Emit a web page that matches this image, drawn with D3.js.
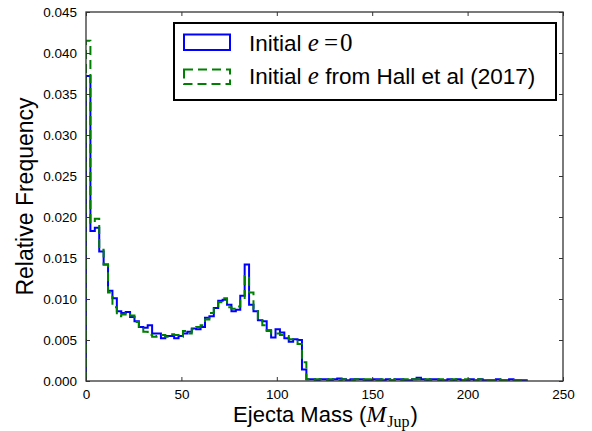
<!DOCTYPE html>
<html>
<head>
<meta charset="utf-8">
<script src="https://cdn.jsdelivr.net/npm/d3@7"></script>
<style>
  html, body { margin: 0; padding: 0; background: #fff; }
  svg { display: block; }
  text { font-family: "Liberation Sans", Arial, sans-serif; fill: #000; }
  .math { font-family: "Liberation Serif", "DejaVu Serif", serif; }
</style>
</head>
<body>
<svg id="chart" width="592" height="431"></svg>
<script>
// Histogram bins: 100 equal-width bins from 0 to 231 M_Jup
const binStart = 0;
const binWidth = 2.31;

// Relative frequency per bin, initial e = 0
const freqCircular = [
  0.0372, 0.0183, 0.0187, 0.0158, 0.0142, 0.0110, 0.0101, 0.0085, 0.0083, 0.0084,
  0.0078, 0.0073, 0.0066, 0.0065, 0.0068, 0.0058, 0.0058, 0.0052, 0.0055, 0.0055,
  0.0052, 0.0055, 0.0058, 0.0060, 0.0064, 0.0063, 0.0066, 0.0077, 0.0079, 0.0089,
  0.0098, 0.0099, 0.0093, 0.0085, 0.0087, 0.0104, 0.0142, 0.0093, 0.0085, 0.0074,
  0.0073, 0.0062, 0.0053, 0.0063, 0.0059, 0.0052, 0.0048, 0.0051, 0.0050, 0.0014,
  0.0002, 0.0002, 0.0001, 0.0002, 0.0002, 0.0001, 0.0002, 0.0003, 0.0002, 0.0001,
  0.0002, 0.0002, 0.0002, 0.0001, 0.0001, 0.0002, 0.0002, 0.0001, 0.0002, 0.0001,
  0.0002, 0.0002, 0.0001, 0.0001, 0.0002, 0.0004, 0.0002, 0.0001, 0.0002, 0.0002,
  0.0001, 0.0001, 0.0002, 0.0001, 0.0002, 0.0001, 0.0001, 0.0002, 0.0001, 0.0002,
  0.0001, 0.0001, 0.0001, 0.0002, 0.0001, 0.0001, 0.0002, 0.0001, 0.0001, 0.0001
];

// Relative frequency per bin, initial e from Hall et al (2017)
const freqHall = [
  0.0415, 0.0193, 0.0198, 0.0160, 0.0142, 0.0108, 0.0090, 0.0079, 0.0081, 0.0083,
  0.0080, 0.0072, 0.0064, 0.0060, 0.0056, 0.0054, 0.0055, 0.0056, 0.0054, 0.0057,
  0.0056, 0.0054, 0.0061, 0.0058, 0.0063, 0.0066, 0.0068, 0.0075, 0.0083, 0.0090,
  0.0096, 0.0101, 0.0090, 0.0088, 0.0091, 0.0100, 0.0128, 0.0108, 0.0088, 0.0076,
  0.0068, 0.0061, 0.0058, 0.0058, 0.0056, 0.0055, 0.0051, 0.0049, 0.0045, 0.0023,
  0.0002, 0.0001, 0.0002, 0.0002, 0.0001, 0.0002, 0.0002, 0.0001, 0.0002, 0.0002,
  0.0001, 0.0002, 0.0001, 0.0002, 0.0002, 0.0001, 0.0001, 0.0002, 0.0002, 0.0001,
  0.0002, 0.0001, 0.0002, 0.0001, 0.0002, 0.0002, 0.0001, 0.0002, 0.0001, 0.0001,
  0.0002, 0.0001, 0.0001, 0.0002, 0.0001, 0.0001, 0.0002, 0.0001, 0.0001, 0.0002,
  0.0001, 0.0001, 0.0001, 0.0002, 0.0001, 0.0001, 0.0001, 0.0001, 0.0001, 0.0001
];

const xTicks = [0, 50, 100, 150, 200, 250];
const yTicks = [0, 0.005, 0.010, 0.015, 0.020, 0.025, 0.030, 0.035, 0.040, 0.045];

const svg = d3.select("#chart");
const W = 592, H = 431;
const margin = { left: 86, right: 29, top: 12, bottom: 50 };
const pw = W - margin.left - margin.right;
const ph = H - margin.top - margin.bottom;

const x = d3.scaleLinear().domain([0, 250]).range([margin.left, margin.left + pw]);
const y = d3.scaleLinear().domain([0, 0.045]).range([margin.top + ph, margin.top]);

// Step outline of a histogram (closed to zero at both ends)
function stepPoints(freq) {
  const pts = [[binStart, 0]];
  freq.forEach((v, i) => {
    pts.push([binStart + i * binWidth, v]);
    pts.push([binStart + (i + 1) * binWidth, v]);
  });
  pts.push([binStart + freq.length * binWidth, 0]);
  return pts;
}
const line = d3.line().x(d => x(d[0])).y(d => y(d[1]));

svg.append("clipPath").attr("id", "plotclip")
  .append("rect").attr("x", margin.left).attr("y", margin.top).attr("width", pw).attr("height", ph);

const plot = svg.append("g").attr("clip-path", "url(#plotclip)");
plot.append("path").attr("d", line(stepPoints(freqCircular)))
  .attr("fill", "none").attr("stroke", "#0000ff").attr("stroke-width", 2)
  .attr("stroke-linejoin", "miter");
plot.append("path").attr("d", line(stepPoints(freqHall)))
  .attr("fill", "none").attr("stroke", "#008000").attr("stroke-width", 2)
  .attr("stroke-dasharray", "9,5");

// Axes: ticks pointing inward on all four sides
const tickLen = 4;
const axisColor = "#333";
const xAxisB = d3.axisBottom(x).tickValues(xTicks).tickSizeInner(-tickLen).tickSizeOuter(0).tickPadding(8)
  .tickFormat(d3.format("d"));
const xAxisT = d3.axisTop(x).tickValues(xTicks).tickSizeInner(-tickLen).tickSizeOuter(0).tickFormat("");
const yAxisL = d3.axisLeft(y).tickValues(yTicks).tickSizeInner(-tickLen).tickSizeOuter(0).tickPadding(9)
  .tickFormat(d3.format(".3f"));
const yAxisR = d3.axisRight(y).tickValues(yTicks).tickSizeInner(-tickLen).tickSizeOuter(0).tickFormat("");

function styleAxis(g) {
  g.select(".domain").remove();
  g.selectAll(".tick line").attr("stroke", axisColor).attr("stroke-width", 1);
  g.selectAll(".tick text").style("font-family", "'Liberation Sans', Arial, sans-serif")
    .style("font-size", "13.5px").attr("fill", "#000");
}
svg.append("g").attr("transform", `translate(0,${margin.top + ph})`).call(xAxisB).call(styleAxis);
svg.append("g").attr("transform", `translate(0,${margin.top})`).call(xAxisT).call(styleAxis);
svg.append("g").attr("transform", `translate(${margin.left},0)`).call(yAxisL).call(styleAxis);
svg.append("g").attr("transform", `translate(${margin.left + pw},0)`).call(yAxisR).call(styleAxis);

// Frame
svg.append("rect").attr("x", margin.left).attr("y", margin.top).attr("width", pw).attr("height", ph)
  .attr("fill", "none").attr("stroke", axisColor).attr("stroke-width", 1.3);

// Axis labels
svg.append("text")
  .attr("transform", `translate(33,${margin.top + ph / 2}) rotate(-90)`)
  .attr("text-anchor", "middle").style("font-size", "23px")
  .text("Relative Frequency");

const xl = svg.append("text").attr("x", margin.left + pw / 2 + 1).attr("y", 422)
  .attr("text-anchor", "middle").style("font-size", "22px");
xl.append("tspan").text("Ejecta Mass (");
xl.append("tspan").attr("class", "math").style("font-style", "italic").style("font-size", "24px").text("M");
xl.append("tspan").attr("class", "math").style("font-size", "16px").attr("dx", 1).attr("dy", 4.5).text("Jup");
xl.append("tspan").attr("dy", -4.5).attr("dx", 1).text(")");

// Legend
const lg = svg.append("g");
lg.append("rect").attr("x", 174).attr("y", 23).attr("width", 382).attr("height", 77)
  .attr("fill", "#fff").attr("stroke", "#000").attr("stroke-width", 2);
lg.append("rect").attr("x", 184).attr("y", 34.5).attr("width", 46).attr("height", 15.5)
  .attr("fill", "none").attr("stroke", "#0000ff").attr("stroke-width", 2);
lg.append("rect").attr("x", 184).attr("y", 69.5).attr("width", 46).attr("height", 14.5)
  .attr("fill", "none").attr("stroke", "#008000").attr("stroke-width", 2).attr("stroke-dasharray", "9,5");

const t1 = lg.append("text").attr("x", 249).attr("y", 50.5).style("font-size", "22.5px");
t1.append("tspan").text("Initial ");
t1.append("tspan").attr("class", "math").style("font-style", "italic").style("font-size", "25px").text("e");
t1.append("tspan").attr("class", "math").style("font-size", "25px").attr("dx", 5).text("=");
t1.append("tspan").attr("class", "math").style("font-size", "25px").attr("dx", 2).text("0");

const t2 = lg.append("text").attr("x", 249).attr("y", 84).style("font-size", "22.5px");
t2.append("tspan").text("Initial ");
t2.append("tspan").attr("class", "math").style("font-style", "italic").style("font-size", "25px").text("e");
t2.append("tspan").text(" from Hall et al (2017)");
</script>
</body>
</html>
